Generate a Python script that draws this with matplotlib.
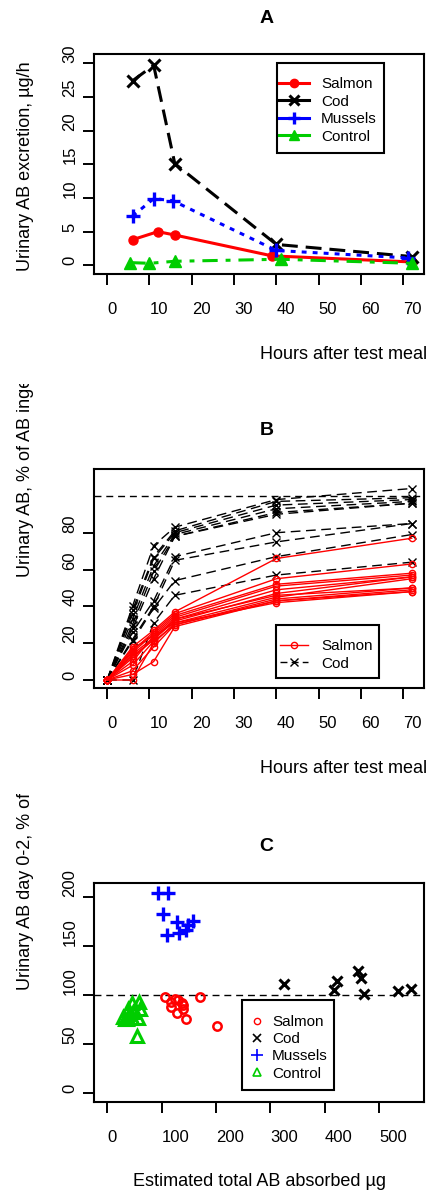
import matplotlib
matplotlib.use("Agg")
import matplotlib.pyplot as plt
from matplotlib.lines import Line2D
from matplotlib.patches import Rectangle
from matplotlib.transforms import Bbox, TransformedBbox

plt.rcParams['font.family'] = ['Liberation Sans', 'DejaVu Sans']

# ---------------- data ----------------
# Panel A: mean urinary AB excretion (ug/h)
a_salmon_t = [6, 12, 16, 39, 72]
a_salmon_y = [3.8, 5.0, 4.5, 1.4, 0.5]
a_cod_t = [6, 11, 16, 40, 72]
a_cod_y = [27.4, 29.7, 15.1, 3.1, 1.3]
a_mussels_t = [6, 11, 15.5, 40, 71]
a_mussels_y = [7.3, 9.9, 9.6, 2.2, 1.1]
a_control_t = [5.5, 10, 16, 41, 72]
a_control_y = [0.4, 0.3, 0.6, 0.9, 0.3]

# Panel B: cumulative urinary AB, % of AB ingested (per subject)
b_times = [0, 6, 11, 16, 40, 72]
b_salmon = [
    [0, 18, 27, 37, 66, 77],
    [0, 16, 26, 36, 55, 63],
    [0, 15, 25, 35, 52, 58],
    [0, 17, 24, 34, 51, 57],
    [0, 14, 23, 33, 49, 56],
    [0, 12, 22, 32, 47, 56],
    [0, 10, 24, 31, 45, 55],
    [0, 8, 21, 30, 44, 50],
    [0, 5, 18, 30, 43, 49],
    [0, 3, 10, 29, 43, 48],
    [0, 0, 20, 31, 42, 48],
    [0, 13, 22, 33, 46, 50],
]
b_cod = [
    [0, 40, 73, 83, 98, 104],
    [0, 38, 67, 81, 97, 99],
    [0, 36, 66, 80, 95, 98],
    [0, 33, 62, 79, 93, 97],
    [0, 30, 59, 78, 91, 96],
    [0, 28, 55, 78, 90, 96],
    [0, 26, 43, 67, 80, 85],
    [0, 22, 40, 65, 75, 85],
    [0, 21, 39, 54, 67, 79],
    [0, 0, 31, 46, 57, 64],
]

# Panel C: urinary AB day 0-2 (% of ingested) vs estimated total AB absorbed (ug)
c_salmon_x = [107, 170, 201, 118, 118, 130, 137, 140, 128, 145, 124, 140]
c_salmon_y = [98, 98, 68, 92.5, 88, 95, 91.5, 86, 82, 76, 96, 90]
c_cod_x = [325, 417, 422, 461, 466, 472, 534, 559]
c_cod_y = [111, 105, 114, 124, 117, 101, 104, 106]
c_mussels_x = [93, 111, 102, 129, 157, 110, 131, 145, 149]
c_mussels_y = [204, 204, 182, 174, 175, 161, 163, 166, 171]
c_control_x = [45, 58, 60, 57, 54, 29, 36, 42, 48, 39, 33, 45]
c_control_y = [92, 93, 86, 77, 58, 78, 76, 81, 83, 86, 76, 77]

x_ticks_ab = [0, 10, 20, 30, 40, 50, 60, 70]
y_ticks_a = [0, 5, 10, 15, 20, 25, 30]
y_ticks_b = [0, 20, 40, 60, 80]
x_ticks_c = [0, 100, 200, 300, 400, 500]
y_ticks_c = [0, 50, 100, 150, 200]

RED = '#FF0000'
BLUE = '#0000FF'
GREEN = '#00CD00'
BLACK = '#000000'

W, H = 430, 1191
fig = plt.figure(figsize=(W / 100, H / 100), dpi=100)


def fx(x):
    return x / W


def fy(y):
    return 1 - y / H


def make_axes(top, bottom, left=94, right=424):
    ax = fig.add_axes([fx(left), fy(bottom), (right - left) / W, (bottom - top) / H])
    for s in ax.spines.values():
        s.set_linewidth(1.5)
    ax.tick_params(direction='out', length=7.9, width=1.4, labelsize=12)
    ax.tick_params(axis='x', pad=12)
    ax.tick_params(axis='y', pad=9.5)
    return ax


def style_ticks(ax, xt, yt):
    ax.set_xticks(xt)
    ax.set_xticklabels([str(v) for v in xt], ha='left')
    ax.set_yticks(yt)
    ax.set_yticklabels([str(v) for v in yt], rotation=90, va='bottom', ha='center')


def frame(x0, y0, x1, y1):
    r = Rectangle((fx(x0), fy(y1)), (x1 - x0) / W, (y1 - y0) / H,
                  transform=fig.transFigure, facecolor='white', edgecolor='black',
                  linewidth=1.5, zorder=3)
    fig.add_artist(r)


def legend(handles, labels, x0, y0, hl, tp, ls=0.23):
    lg = fig.legend(handles, labels, loc='upper left',
                    bbox_to_anchor=(fx(x0), fy(y0)), bbox_transform=fig.transFigure,
                    frameon=False, borderpad=0, borderaxespad=0, handlelength=hl,
                    handletextpad=tp, labelspacing=ls, fontsize=11)
    lg.set_zorder(5)
    return lg


def ylabel(text, x, y, clip_top=None):
    t = fig.text(fx(x), fy(y), text, rotation=90, ha='center', va='bottom', fontsize=13)
    if clip_top is not None:
        t.set_clip_box(TransformedBbox(Bbox([[0, 0], [1, fy(clip_top)]]), fig.transFigure))
        t.set_clip_on(True)
    return t


def title(text, y):
    fig.text(fx(259.5), fy(y), text, fontsize=14, fontweight='bold', ha='left',
             va='baseline')


# ---------------- Panel A ----------------
axA = make_axes(54, 274)
axA.plot(a_salmon_t, a_salmon_y, color=RED, lw=2.2, marker='o', ms=6.5, zorder=3)
axA.plot(a_cod_t, a_cod_y, color=BLACK, lw=2.2, ls=(0, (5.2, 2.6)), marker='x',
         ms=8, mew=2.2, zorder=3)
axA.plot(a_mussels_t, a_mussels_y, color=BLUE, lw=2.2, ls=(0, (1.6, 2.0)), marker='+',
         ms=10, mew=2.4, zorder=3)
axA.plot(a_control_t, a_control_y, color=GREEN, lw=2.2, ls=(0, (5, 2.6, 1.6, 2.6)),
         marker='^', ms=8, zorder=3)
axA.set_xlim(-3.1, 74.9)
axA.set_ylim(-1.29, 31.38)
style_ticks(axA, x_ticks_ab, y_ticks_a)

title('A', 23)
fig.text(fx(260), fy(359), 'Hours after test meal', fontsize=13, ha='left', va='baseline')
ylabel('Urinary AB excretion, \u00b5g/h', 25.4, 271)

frame(277, 63, 384, 153)
hA = [Line2D([], [], color=RED, lw=2.2, marker='o', ms=6),
      Line2D([], [], color=BLACK, lw=2.2, marker='x', ms=7, mew=2.2),
      Line2D([], [], color=BLUE, lw=2.2, marker='+', ms=9, mew=2.4),
      Line2D([], [], color=GREEN, lw=2.2, marker='^', ms=7.5)]
legend(hA, ['Salmon', 'Cod', 'Mussels', 'Control'], 279, 77, 1.96, 0.78)

# ---------------- Panel B ----------------
axB = make_axes(469, 688)
axB.axhline(100, color=BLACK, lw=1.0, ls=(0, (5, 3.5)), zorder=1)
for row in b_cod:
    axB.plot(b_times, row, color=BLACK, lw=1.0, ls=(0, (7, 4)), marker='x',
             ms=6, mew=1.0, zorder=2)
for row in b_salmon:
    axB.plot(b_times, row, color=RED, lw=1.0, marker='o', ms=4.5, mfc='none',
             mew=1.0, zorder=3)
axB.set_xlim(-3.1, 74.9)
axB.set_ylim(-4.34, 114.6)
style_ticks(axB, x_ticks_ab, y_ticks_b)

title('B', 435)
fig.text(fx(260), fy(773), 'Hours after test meal', fontsize=13, ha='left', va='baseline')
ylabel('Urinary AB, % of AB ingested', 25.4, 577, clip_top=384)

frame(276, 625, 379, 678)
hB = [Line2D([], [], color=RED, lw=1.0, marker='o', ms=4.5, mfc='none', mew=1.0),
      Line2D([], [], color=BLACK, lw=1.0, ls=(0, (5, 3)), marker='x', ms=6, mew=1.0)]
legend(hB, ['Salmon', 'Cod'], 280, 639, 1.83, 0.85)

# ---------------- Panel C ----------------
axC = make_axes(883, 1102)
axC.axhline(100, color=BLACK, lw=1.0, ls=(0, (5, 3.5)), zorder=1)
axC.plot(c_salmon_x, c_salmon_y, ls='none', marker='o', ms=6, mfc='none', mec=RED,
         mew=1.8, zorder=3)
axC.plot(c_cod_x, c_cod_y, ls='none', marker='x', ms=7, mec=BLACK, mew=2.2, zorder=3)
axC.plot(c_mussels_x, c_mussels_y, ls='none', marker='+', ms=10, mec=BLUE, mew=2.4,
         zorder=3)
axC.plot(c_control_x, c_control_y, ls='none', marker='^', ms=8, mfc='none', mec=GREEN,
         mew=2.2, zorder=3)
axC.set_xlim(-24.4, 582.2)
axC.set_ylim(-8.85, 213.9)
style_ticks(axC, x_ticks_c, y_ticks_c)

title('C', 851)
fig.text(fx(259.5), fy(1186), 'Estimated total AB absorbed \u00b5g', fontsize=13,
         ha='center', va='baseline')
ylabel('Urinary AB day 0-2, % of AB ingested', 25.4, 990, clip_top=794)

frame(242, 1000, 334, 1090)
hC = [Line2D([], [], ls='none', marker='o', ms=4.5, mfc='none', mec=RED, mew=1.0),
      Line2D([], [], ls='none', marker='x', ms=5.5, mec=BLACK, mew=1.2),
      Line2D([], [], ls='none', marker='+', ms=8, mec=BLUE, mew=1.2),
      Line2D([], [], ls='none', marker='^', ms=6, mfc='none', mec=GREEN, mew=1.2)]
legend(hC, ['Salmon', 'Cod', 'Mussels', 'Control'], 249.5, 1015, 1.0, 0.47, ls=0.21)

fig.savefig('out.png', dpi=100)
